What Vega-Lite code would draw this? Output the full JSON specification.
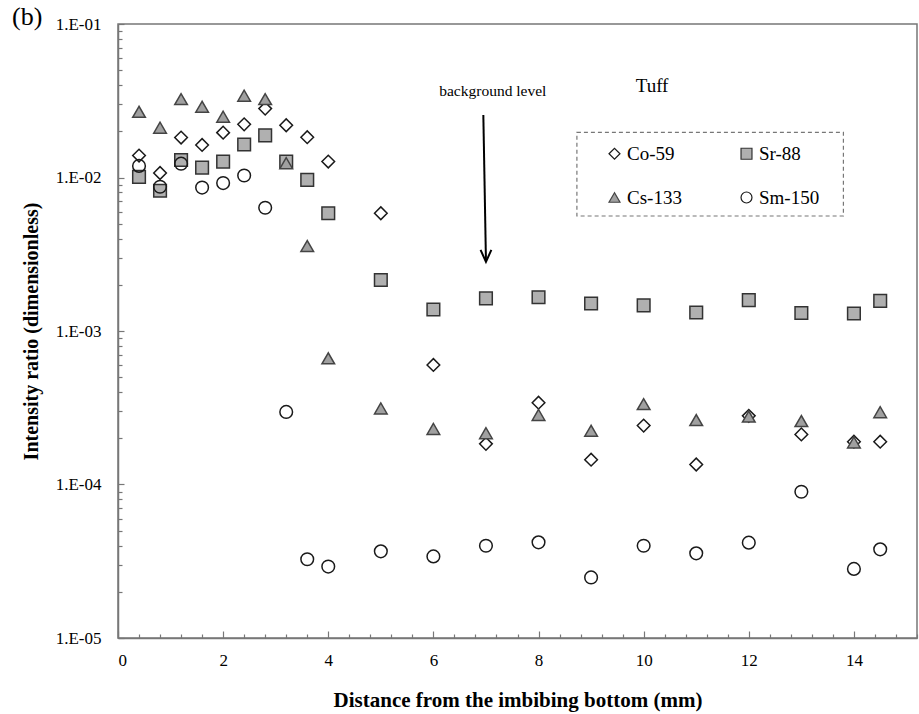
{
  "$schema": "https://vega.github.io/schema/vega-lite/v6.json",
  "width": 799,
  "height": 614,
  "autosize": "none",
  "padding": {"left": 118, "top": 24, "right": 2, "bottom": 76},
  "background": "white",
  "config": {"view": {"stroke": "#777777", "strokeWidth": 1.5}, "font": "Liberation Serif"},
  "title": {"text": "(b)", "anchor": "start", "frame": "group", "dx": -106, "offset": -36, "fontSize": 26, "font": "Liberation Serif", "fontWeight": "normal", "color": "black", "baseline": "alphabetic"},
  "resolve": {"axis": {"x": "independent", "y": "independent"}},
  "layer": [
    {
      "data": {"values": [
        {"x": 0.4, "y": 0.0139, "s": "Co-59"}, {"x": 0.8, "y": 0.0107, "s": "Co-59"}, {"x": 1.2, "y": 0.0182, "s": "Co-59"}, {"x": 1.6, "y": 0.0163, "s": "Co-59"}, {"x": 2.0, "y": 0.0196, "s": "Co-59"}, {"x": 2.4, "y": 0.0222, "s": "Co-59"}, {"x": 2.8, "y": 0.0281, "s": "Co-59"}, {"x": 3.2, "y": 0.0219, "s": "Co-59"}, {"x": 3.6, "y": 0.0183, "s": "Co-59"}, {"x": 4.0, "y": 0.0127, "s": "Co-59"}, {"x": 5, "y": 0.00585, "s": "Co-59"}, {"x": 6, "y": 0.000601, "s": "Co-59"}, {"x": 7, "y": 0.000184, "s": "Co-59"}, {"x": 8, "y": 0.000341, "s": "Co-59"}, {"x": 9, "y": 0.000145, "s": "Co-59"}, {"x": 10, "y": 0.000242, "s": "Co-59"}, {"x": 11, "y": 0.000135, "s": "Co-59"}, {"x": 12, "y": 0.00028, "s": "Co-59"}, {"x": 13, "y": 0.000212, "s": "Co-59"}, {"x": 14, "y": 0.00019, "s": "Co-59"}, {"x": 14.5, "y": 0.00019, "s": "Co-59"},
        {"x": 0.4, "y": 0.0101, "s": "Sr-88"}, {"x": 0.8, "y": 0.0082, "s": "Sr-88"}, {"x": 1.2, "y": 0.013, "s": "Sr-88"}, {"x": 1.6, "y": 0.0116, "s": "Sr-88"}, {"x": 2.0, "y": 0.0127, "s": "Sr-88"}, {"x": 2.4, "y": 0.0164, "s": "Sr-88"}, {"x": 2.8, "y": 0.0188, "s": "Sr-88"}, {"x": 3.2, "y": 0.0127, "s": "Sr-88"}, {"x": 3.6, "y": 0.00964, "s": "Sr-88"}, {"x": 4.0, "y": 0.00585, "s": "Sr-88"}, {"x": 5, "y": 0.00215, "s": "Sr-88"}, {"x": 6, "y": 0.00138, "s": "Sr-88"}, {"x": 7, "y": 0.00163, "s": "Sr-88"}, {"x": 8, "y": 0.00166, "s": "Sr-88"}, {"x": 9, "y": 0.00151, "s": "Sr-88"}, {"x": 10, "y": 0.00147, "s": "Sr-88"}, {"x": 11, "y": 0.00132, "s": "Sr-88"}, {"x": 12, "y": 0.00159, "s": "Sr-88"}, {"x": 13, "y": 0.00131, "s": "Sr-88"}, {"x": 14, "y": 0.0013, "s": "Sr-88"}, {"x": 14.5, "y": 0.00157, "s": "Sr-88"},
        {"x": 0.4, "y": 0.0268, "s": "Cs-133"}, {"x": 0.8, "y": 0.0211, "s": "Cs-133"}, {"x": 1.2, "y": 0.0324, "s": "Cs-133"}, {"x": 1.6, "y": 0.0289, "s": "Cs-133"}, {"x": 2.0, "y": 0.0249, "s": "Cs-133"}, {"x": 2.4, "y": 0.0341, "s": "Cs-133"}, {"x": 2.8, "y": 0.0324, "s": "Cs-133"}, {"x": 3.2, "y": 0.0124, "s": "Cs-133"}, {"x": 3.6, "y": 0.00358, "s": "Cs-133"}, {"x": 4.0, "y": 0.000664, "s": "Cs-133"}, {"x": 5, "y": 0.000313, "s": "Cs-133"}, {"x": 6, "y": 0.00023, "s": "Cs-133"}, {"x": 7, "y": 0.000216, "s": "Cs-133"}, {"x": 8, "y": 0.000284, "s": "Cs-133"}, {"x": 9, "y": 0.000224, "s": "Cs-133"}, {"x": 10, "y": 0.000334, "s": "Cs-133"}, {"x": 11, "y": 0.000263, "s": "Cs-133"}, {"x": 12, "y": 0.000277, "s": "Cs-133"}, {"x": 13, "y": 0.000259, "s": "Cs-133"}, {"x": 14, "y": 0.000188, "s": "Cs-133"}, {"x": 14.5, "y": 0.000296, "s": "Cs-133"},
        {"x": 0.4, "y": 0.0119, "s": "Sm-150"}, {"x": 0.8, "y": 0.0087, "s": "Sm-150"}, {"x": 1.2, "y": 0.0123, "s": "Sm-150"}, {"x": 1.6, "y": 0.0086, "s": "Sm-150"}, {"x": 2.0, "y": 0.0092, "s": "Sm-150"}, {"x": 2.4, "y": 0.0103, "s": "Sm-150"}, {"x": 2.8, "y": 0.00635, "s": "Sm-150"}, {"x": 3.2, "y": 0.000297, "s": "Sm-150"}, {"x": 3.6, "y": 0.0000326, "s": "Sm-150"}, {"x": 4.0, "y": 0.0000292, "s": "Sm-150"}, {"x": 5, "y": 0.0000367, "s": "Sm-150"}, {"x": 6, "y": 0.000034, "s": "Sm-150"}, {"x": 7, "y": 0.0000399, "s": "Sm-150"}, {"x": 8, "y": 0.000042, "s": "Sm-150"}, {"x": 9, "y": 0.0000248, "s": "Sm-150"}, {"x": 10, "y": 0.0000399, "s": "Sm-150"}, {"x": 11, "y": 0.0000356, "s": "Sm-150"}, {"x": 12, "y": 0.0000418, "s": "Sm-150"}, {"x": 13, "y": 0.0000897, "s": "Sm-150"}, {"x": 14, "y": 0.0000282, "s": "Sm-150"}, {"x": 14.5, "y": 0.0000378, "s": "Sm-150"}
      ]},
      "mark": {"type": "point", "filled": true, "size": 160, "strokeWidth": 1.5, "opacity": 1},
      "encoding": {
        "x": {"field": "x", "type": "quantitative", "scale": {"domain": [0, 15.2], "nice": false, "zero": false},
          "axis": {"orient": "bottom", "values": [0, 2, 4, 6, 8, 10, 12, 14], "ticks": false, "tickSize": 0, "grid": false, "labelPadding": 14, "labelFontSize": 17, "labelFont": "Liberation Serif", "labelColor": "black", "domainColor": "#777777", "domainWidth": 1.5, "title": "Distance from the imbibing bottom (mm)", "titleFont": "Liberation Serif", "titleFontSize": 21, "titleFontWeight": "bold", "titleColor": "black", "titlePadding": 21}},
        "y": {"field": "y", "type": "quantitative", "scale": {"type": "log", "domain": [0.00001, 0.1], "nice": false},
          "axis": {"orient": "left", "values": [0.00001, 0.0001, 0.001, 0.01, 0.1], "labelExpr": "'1.E-' + format(-round(log(datum.value)/LN10), '02d')", "ticks": false, "tickSize": 0, "grid": false, "labelPadding": 17, "labelFontSize": 17, "labelFont": "Liberation Serif", "labelColor": "black", "domainColor": "#777777", "domainWidth": 1.5, "title": "Intensity ratio (dimensionless)", "titleFont": "Liberation Serif", "titleFontSize": 20, "titleFontWeight": "bold", "titleColor": "black", "titlePadding": 14}},
        "shape": {"field": "s", "type": "nominal", "scale": {"domain": ["Co-59", "Sr-88", "Cs-133", "Sm-150"], "range": ["diamond", "square", "triangle-up", "circle"]},
          "legend": {"title": null, "orient": "none", "direction": "horizontal", "legendX": 487, "legendY": 120, "columns": 2, "symbolSize": 120, "symbolStrokeWidth": 1.2, "labelFont": "Liberation Serif", "labelFontSize": 19, "labelColor": "black", "labelOffset": 3, "rowPadding": 24, "columnPadding": 55, "padding": 0}},
        "fill": {"field": "s", "type": "nominal", "scale": {"domain": ["Co-59", "Sr-88", "Cs-133", "Sm-150"], "range": ["transparent", "#b0b0b0", "#a0a0a0", "transparent"]}},
        "stroke": {"field": "s", "type": "nominal", "scale": {"domain": ["Co-59", "Sr-88", "Cs-133", "Sm-150"], "range": ["#1a1a1a", "#333333", "#444444", "#1a1a1a"]}}
      }
    },
    {
      "data": {"values": [{"x": 6.95, "y": 0.0255, "x2": 7.0, "y2": 0.00285}]},
      "mark": {"type": "rule", "strokeWidth": 2, "color": "black"},
      "encoding": {
        "x": {"field": "x", "type": "quantitative", "scale": {"domain": [0, 15.2], "nice": false, "zero": false},
          "axis": {"orient": "bottom", "values": [0, 2, 4, 6, 8, 10, 12, 14], "labels": false, "domain": false, "grid": false, "title": null, "ticks": true, "tickSize": 7, "offset": -7, "tickColor": "#777777", "tickWidth": 1.2}},
        "x2": {"field": "x2"},
        "y": {"field": "y", "type": "quantitative", "scale": {"type": "log", "domain": [0.00001, 0.1], "nice": false},
          "axis": {"orient": "left", "values": [0.00001, 0.0001, 0.001, 0.01, 0.1], "labels": false, "domain": false, "grid": false, "title": null, "ticks": true, "tickSize": 6, "offset": -6, "tickColor": "#777777", "tickWidth": 1.2}},
        "y2": {"field": "y2"}
      }
    },
    {
      "data": {"values": [{"x": 7.0, "y": 0.00282}]},
      "mark": {"type": "point", "shape": "M-0.45,-1L0,0L0.45,-1", "size": 576, "filled": false, "stroke": "black", "strokeWidth": 2, "opacity": 1},
      "encoding": {
        "x": {"field": "x", "type": "quantitative", "scale": {"domain": [0, 15.2], "nice": false, "zero": false},
          "axis": {"orient": "bottom", "values": [0.4, 0.8, 1.2, 1.6, 2.4, 2.8, 3.2, 3.6, 4.4, 4.8, 5.2, 5.6, 6.4, 6.8, 7.2, 7.6, 8.4, 8.8, 9.2, 9.6, 10.4, 10.8, 11.2, 11.6, 12.4, 12.8, 13.2, 13.6, 14.4, 14.8, 15.2], "labels": false, "domain": false, "grid": false, "title": null, "ticks": true, "tickSize": 4, "offset": -4, "tickColor": "#777777", "tickWidth": 1.2}},
        "y": {"field": "y", "type": "quantitative", "scale": {"type": "log", "domain": [0.00001, 0.1], "nice": false},
          "axis": {"orient": "left", "values": [0.00002, 0.00003, 0.00004, 0.00005, 0.00006, 0.00007, 0.00008, 0.00009, 0.0002, 0.0003, 0.0004, 0.0005, 0.0006, 0.0007, 0.0008, 0.0009, 0.002, 0.003, 0.004, 0.005, 0.006, 0.007, 0.008, 0.009, 0.02, 0.03, 0.04, 0.05, 0.06, 0.07, 0.08, 0.09], "labels": false, "domain": false, "grid": false, "title": null, "ticks": true, "tickSize": 4, "offset": -4, "tickColor": "#777777", "tickWidth": 1.2}}
      }
    },
    {
      "data": {"values": [{"x": 7.13, "y": 0.0366, "t": "background level"}]},
      "mark": {"type": "text", "font": "Liberation Serif", "fontSize": 15.5, "color": "black", "align": "center", "baseline": "middle"},
      "encoding": {
        "x": {"field": "x", "type": "quantitative", "scale": {"domain": [0, 15.2], "nice": false, "zero": false}, "axis": null},
        "y": {"field": "y", "type": "quantitative", "scale": {"type": "log", "domain": [0.00001, 0.1], "nice": false}, "axis": null},
        "text": {"field": "t"}
      }
    },
    {
      "data": {"values": [{"x": 10.16, "y": 0.0394, "t": "Tuff"}]},
      "mark": {"type": "text", "font": "Liberation Serif", "fontSize": 19, "color": "black", "align": "center", "baseline": "middle"},
      "encoding": {
        "x": {"field": "x", "type": "quantitative", "scale": {"domain": [0, 15.2], "nice": false, "zero": false}, "axis": null},
        "y": {"field": "y", "type": "quantitative", "scale": {"type": "log", "domain": [0.00001, 0.1], "nice": false}, "axis": null},
        "text": {"field": "t"}
      }
    },
    {
      "data": {"values": [{"x": 8.73, "x2": 13.8, "y": 0.0197, "y2": 0.005613}]},
      "mark": {"type": "rect", "fill": null, "fillOpacity": 0, "stroke": "#777777", "strokeWidth": 1.2, "strokeDash": [4, 3]},
      "encoding": {
        "x": {"field": "x", "type": "quantitative", "scale": {"domain": [0, 15.2], "nice": false, "zero": false}, "axis": null},
        "x2": {"field": "x2"},
        "y": {"field": "y", "type": "quantitative", "scale": {"type": "log", "domain": [0.00001, 0.1], "nice": false}, "axis": null},
        "y2": {"field": "y2"}
      }
    }
  ]
}
